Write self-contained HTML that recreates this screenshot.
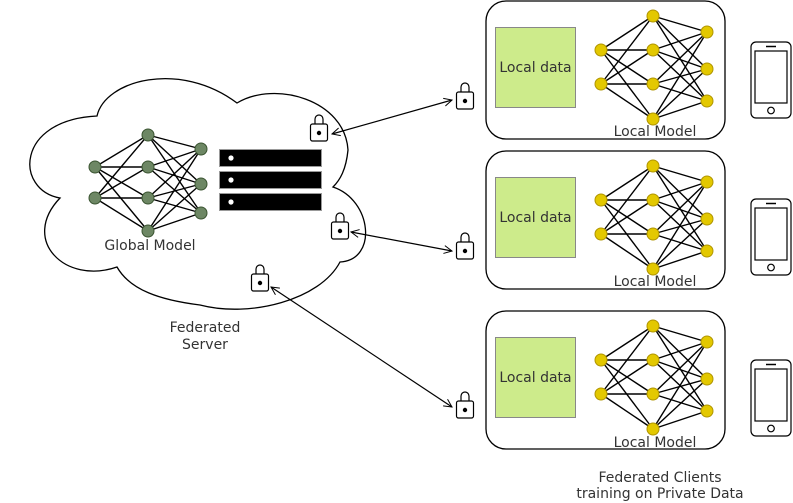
<!DOCTYPE html>
<html><head><meta charset="utf-8"><style>
html,body{margin:0;padding:0;background:#fff;}
svg{display:block;}
text{font-family:"DejaVu Sans","Liberation Sans",sans-serif;font-size:14px;fill:#333;}
</style></head><body>
<svg width="793" height="503" viewBox="0 0 793 503" xmlns="http://www.w3.org/2000/svg">
<defs>
<marker id="ar" markerWidth="10" markerHeight="10" refX="9" refY="5" orient="auto-start-reverse" markerUnits="userSpaceOnUse">
<path d="M1,1 L9,5 L1,9" fill="none" stroke="#000" stroke-width="1"/>
</marker>
<g id="lock">
<path d="M-4,-8 V-13 A4,4 0 0 1 4,-13 V-8" fill="none" stroke="#000" stroke-width="1.2"/>
<rect x="-8.5" y="-8" width="17" height="17" rx="2" fill="#fff" stroke="#000" stroke-width="1.2"/>
<circle cx="0" cy="1" r="2.2" fill="#000"/>
</g>
<g id="lnn" stroke="#000" stroke-width="1.4">
<g>
<line x1="601" y1="49" x2="653" y2="15"/><line x1="601" y1="49" x2="653" y2="49"/><line x1="601" y1="49" x2="653" y2="83"/><line x1="601" y1="49" x2="653" y2="118"/>
<line x1="601" y1="83" x2="653" y2="15"/><line x1="601" y1="83" x2="653" y2="49"/><line x1="601" y1="83" x2="653" y2="83"/><line x1="601" y1="83" x2="653" y2="118"/>
<line x1="653" y1="15" x2="707" y2="31"/><line x1="653" y1="15" x2="707" y2="68"/><line x1="653" y1="15" x2="707" y2="100"/>
<line x1="653" y1="49" x2="707" y2="31"/><line x1="653" y1="49" x2="707" y2="68"/><line x1="653" y1="49" x2="707" y2="100"/>
<line x1="653" y1="83" x2="707" y2="31"/><line x1="653" y1="83" x2="707" y2="68"/><line x1="653" y1="83" x2="707" y2="100"/>
<line x1="653" y1="118" x2="707" y2="31"/><line x1="653" y1="118" x2="707" y2="68"/><line x1="653" y1="118" x2="707" y2="100"/>
</g>
<g fill="#e3c800" stroke="#b09500" stroke-width="1">
<circle cx="601" cy="49" r="6"/><circle cx="601" cy="83" r="6"/>
<circle cx="653" cy="15" r="6"/><circle cx="653" cy="49" r="6"/><circle cx="653" cy="83" r="6"/><circle cx="653" cy="118" r="6"/>
<circle cx="707" cy="31" r="6"/><circle cx="707" cy="68" r="6"/><circle cx="707" cy="100" r="6"/>
</g>
</g>
<g id="phone" fill="none" stroke="#000" stroke-width="1.2">
<rect x="751" y="0" width="40" height="76" rx="5" fill="#fff"/>
<rect x="755" y="9" width="32" height="52"/>
<line x1="766" y1="4.5" x2="776" y2="4.5" stroke-width="1.5"/>
<circle cx="771" cy="68.5" r="3.3"/>
</g>
</defs>

<!-- cloud -->
<path d="M97,116 C105,80 180,60 237,103 C275,80 345,100 348,150 C346,170 340,180 333,187 C372,200 378,260 340,262 C320,300 250,318 200,305 C160,300 130,290 117,267 C65,285 20,240 60,198 C15,190 15,120 97,116 Z" fill="#fff" stroke="#000" stroke-width="1.3"/>

<!-- global nn -->
<g stroke="#000" stroke-width="1.4">
<line x1="95" y1="167" x2="148" y2="135"/><line x1="95" y1="167" x2="148" y2="167"/><line x1="95" y1="167" x2="148" y2="198"/><line x1="95" y1="167" x2="148" y2="231"/>
<line x1="95" y1="198" x2="148" y2="135"/><line x1="95" y1="198" x2="148" y2="167"/><line x1="95" y1="198" x2="148" y2="198"/><line x1="95" y1="198" x2="148" y2="231"/>
<line x1="148" y1="135" x2="201" y2="149"/><line x1="148" y1="135" x2="201" y2="184"/><line x1="148" y1="135" x2="201" y2="213"/>
<line x1="148" y1="167" x2="201" y2="149"/><line x1="148" y1="167" x2="201" y2="184"/><line x1="148" y1="167" x2="201" y2="213"/>
<line x1="148" y1="198" x2="201" y2="149"/><line x1="148" y1="198" x2="201" y2="184"/><line x1="148" y1="198" x2="201" y2="213"/>
<line x1="148" y1="231" x2="201" y2="149"/><line x1="148" y1="231" x2="201" y2="184"/><line x1="148" y1="231" x2="201" y2="213"/>
</g>
<g fill="#6d8764" stroke="#3a5431" stroke-width="1">
<circle cx="95" cy="167" r="6"/><circle cx="95" cy="198" r="6"/>
<circle cx="148" cy="135" r="6"/><circle cx="148" cy="167" r="6"/><circle cx="148" cy="198" r="6"/><circle cx="148" cy="231" r="6"/>
<circle cx="201" cy="149" r="6"/><circle cx="201" cy="184" r="6"/><circle cx="201" cy="213" r="6"/>
</g>
<text x="150" y="250" text-anchor="middle">Global Model</text>

<!-- server -->
<g fill="#000" stroke="#999" stroke-width="1">
<rect x="219.5" y="149.5" width="102" height="17"/>
<rect x="219.5" y="171.5" width="102" height="17"/>
<rect x="219.5" y="193.5" width="102" height="17"/>
</g>
<g fill="#fff"><circle cx="231" cy="158" r="2.6"/><circle cx="231" cy="180" r="2.6"/><circle cx="231" cy="202" r="2.6"/></g>

<text x="205" y="332" text-anchor="middle">Federated</text>
<text x="205" y="349" text-anchor="middle">Server</text>

<!-- locks -->
<use href="#lock" x="319" y="132"/>
<use href="#lock" x="340" y="230"/>
<use href="#lock" x="260" y="282"/>
<use href="#lock" x="465" y="100"/>
<use href="#lock" x="465" y="250"/>
<use href="#lock" x="465" y="409"/>

<!-- arrows -->
<g stroke="#000" stroke-width="1.2" fill="none">
<line x1="332" y1="134" x2="452" y2="100" marker-start="url(#ar)" marker-end="url(#ar)"/>
<line x1="351" y1="232" x2="452" y2="251" marker-start="url(#ar)" marker-end="url(#ar)"/>
<line x1="271" y1="287" x2="452" y2="407" marker-start="url(#ar)" marker-end="url(#ar)"/>
</g>

<!-- clients -->
<g>
<rect x="486" y="1" width="239" height="138" rx="20" fill="#fff" stroke="#000" stroke-width="1.3"/>
<rect x="495.5" y="27.5" width="80" height="80" fill="#cdeb8b" stroke="#888" stroke-width="1"/>
<text x="535.5" y="72" text-anchor="middle">Local data</text>
<use href="#lnn" x="0" y="1"/>
<text x="655" y="136" text-anchor="middle">Local Model</text>
<use href="#phone" x="0" y="42"/>
</g>
<g>
<rect x="486" y="151" width="239" height="138" rx="20" fill="#fff" stroke="#000" stroke-width="1.3"/>
<rect x="495.5" y="177.5" width="80" height="80" fill="#cdeb8b" stroke="#888" stroke-width="1"/>
<text x="535.5" y="222" text-anchor="middle">Local data</text>
<use href="#lnn" x="0" y="151"/>
<text x="655" y="286" text-anchor="middle">Local Model</text>
<use href="#phone" x="0" y="199"/>
</g>
<g>
<rect x="486" y="311" width="239" height="138" rx="20" fill="#fff" stroke="#000" stroke-width="1.3"/>
<rect x="495.5" y="337.5" width="80" height="80" fill="#cdeb8b" stroke="#888" stroke-width="1"/>
<text x="535.5" y="382" text-anchor="middle">Local data</text>
<use href="#lnn" x="0" y="311"/>
<text x="655" y="447" text-anchor="middle">Local Model</text>
<use href="#phone" x="0" y="360"/>
</g>

<text x="660" y="482" text-anchor="middle">Federated Clients</text>
<text x="660" y="498" text-anchor="middle">training on Private Data</text>
</svg>
</body></html>
